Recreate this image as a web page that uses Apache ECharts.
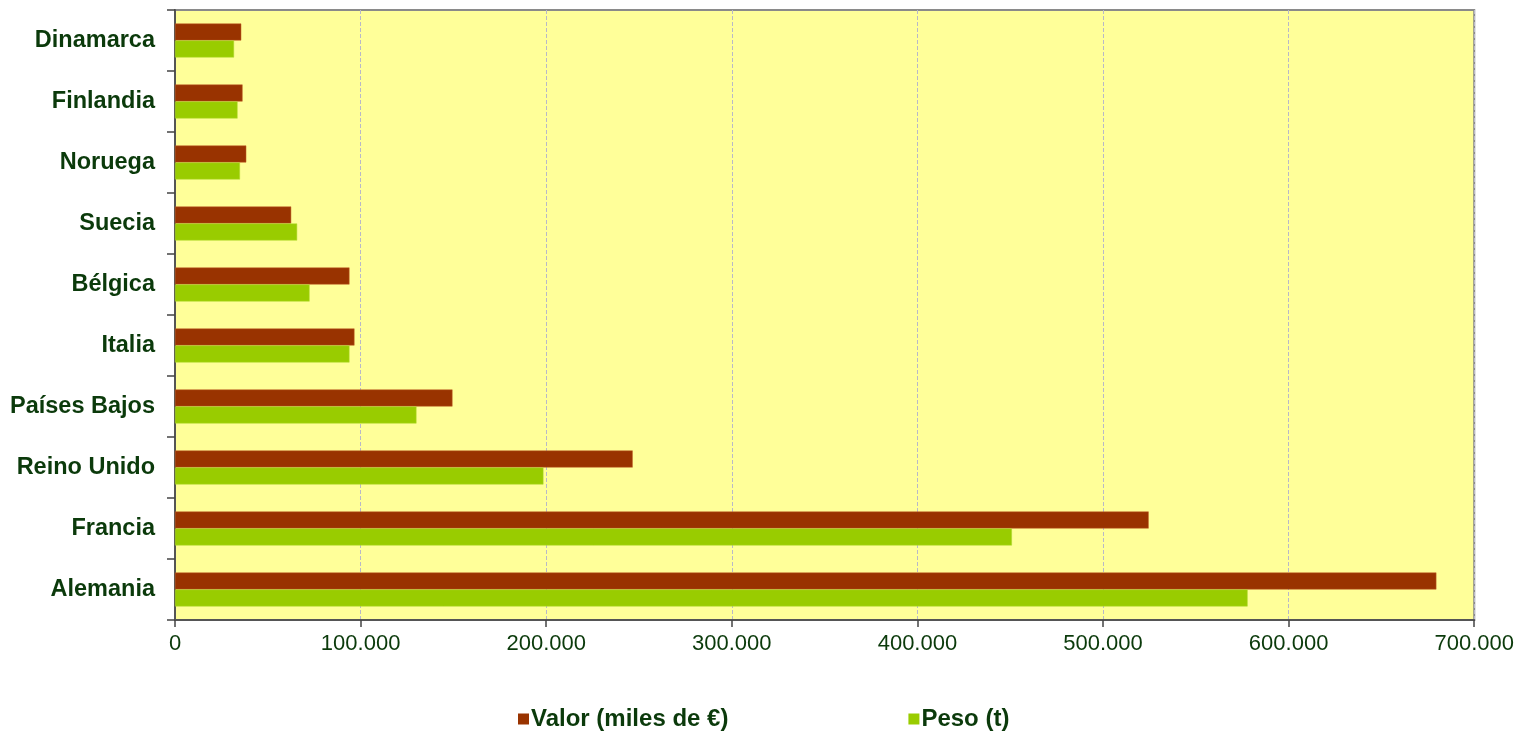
<!DOCTYPE html>
<html>
<head>
<meta charset="utf-8">
<script src="https://cdn.jsdelivr.net/npm/echarts@6/dist/echarts.min.js"></script>
<style>
html,body{margin:0;padding:0;background:#fff;}
#chart{width:1517px;height:731px;}
</style>
</head>
<body>
<div id="chart"></div>
<script>
// Categories listed bottom to top
var categories = ['Alemania','Francia','Reino Unido','Países Bajos','Italia','Bélgica','Suecia','Noruega','Finlandia','Dinamarca'];
var valorMilesEuro = [679600, 524600, 246600, 149500, 96700, 94000, 62600, 38400, 36400, 35700];
var pesoToneladas = [577900, 450900, 198500, 130100, 94000, 72500, 65800, 35000, 33700, 31800];
var seriesNames = ['Valor (miles de €)', 'Peso (t)'];
var xTicks = [0, 100000, 200000, 300000, 400000, 500000, 600000, 700000];

var textColor = '#0b3a0b';
var font = 'Liberation Sans, Arial, sans-serif';

function fmt(v){
  return String(v).replace(/\B(?=(\d{3})+(?!\d))/g, '.');
}

var chart = echarts.init(document.getElementById('chart'));
chart.setOption({
  backgroundColor: '#ffffff',
  animation: false,
  grid: {
    left: 175, right: 42, top: 10, bottom: 111,
    show: true, backgroundColor: '#FFFF99', borderColor: '#8a8a8a', borderWidth: 2,
    containLabel: false
  },
  legend: {
    left: 513, top: 702,
    itemWidth: 11, itemHeight: 11, itemGap: 180,
    icon: 'rect',
    itemStyle: { borderWidth: 0 },
    textStyle: { color: textColor, fontFamily: font, fontSize: 24, fontWeight: 'bold', padding: [0,0,0,-3] },
    data: seriesNames
  },
  xAxis: {
    type: 'value',
    min: xTicks[0], max: xTicks[xTicks.length-1], interval: 100000,
    axisLine: { show: true, lineStyle: { color: '#555', width: 2 } },
    axisTick: { show: true, length: 7, lineStyle: { color: '#444', width: 1.5 } },
    axisLabel: { color: textColor, fontFamily: font, fontSize: 22, margin: 13, formatter: fmt },
    splitLine: { show: true, lineStyle: { color: '#b8b8c8', type: 'dashed', width: 1 } }
  },
  yAxis: {
    type: 'category',
    data: categories,
    axisLine: { show: true, lineStyle: { color: '#555', width: 2 } },
    axisTick: { show: true, length: 8, lineStyle: { color: '#444', width: 1.5 } },
    axisLabel: { color: textColor, fontFamily: font, fontSize: 23.5, fontWeight: 'bold', margin: 20 },
    splitLine: { show: false }
  },
  series: [
    {
      name: seriesNames[0], type: 'bar', data: valorMilesEuro,
      barWidth: 17, barGap: '0%',
      itemStyle: { color: '#993300', borderColor: '#c0602a', borderWidth: 0.5 }
    },
    {
      name: seriesNames[1], type: 'bar', data: pesoToneladas,
      barWidth: 17, barGap: '0%',
      itemStyle: { color: '#99CC00', borderColor: '#b0d830', borderWidth: 0.5 }
    }
  ]
});
</script>
</body>
</html>
